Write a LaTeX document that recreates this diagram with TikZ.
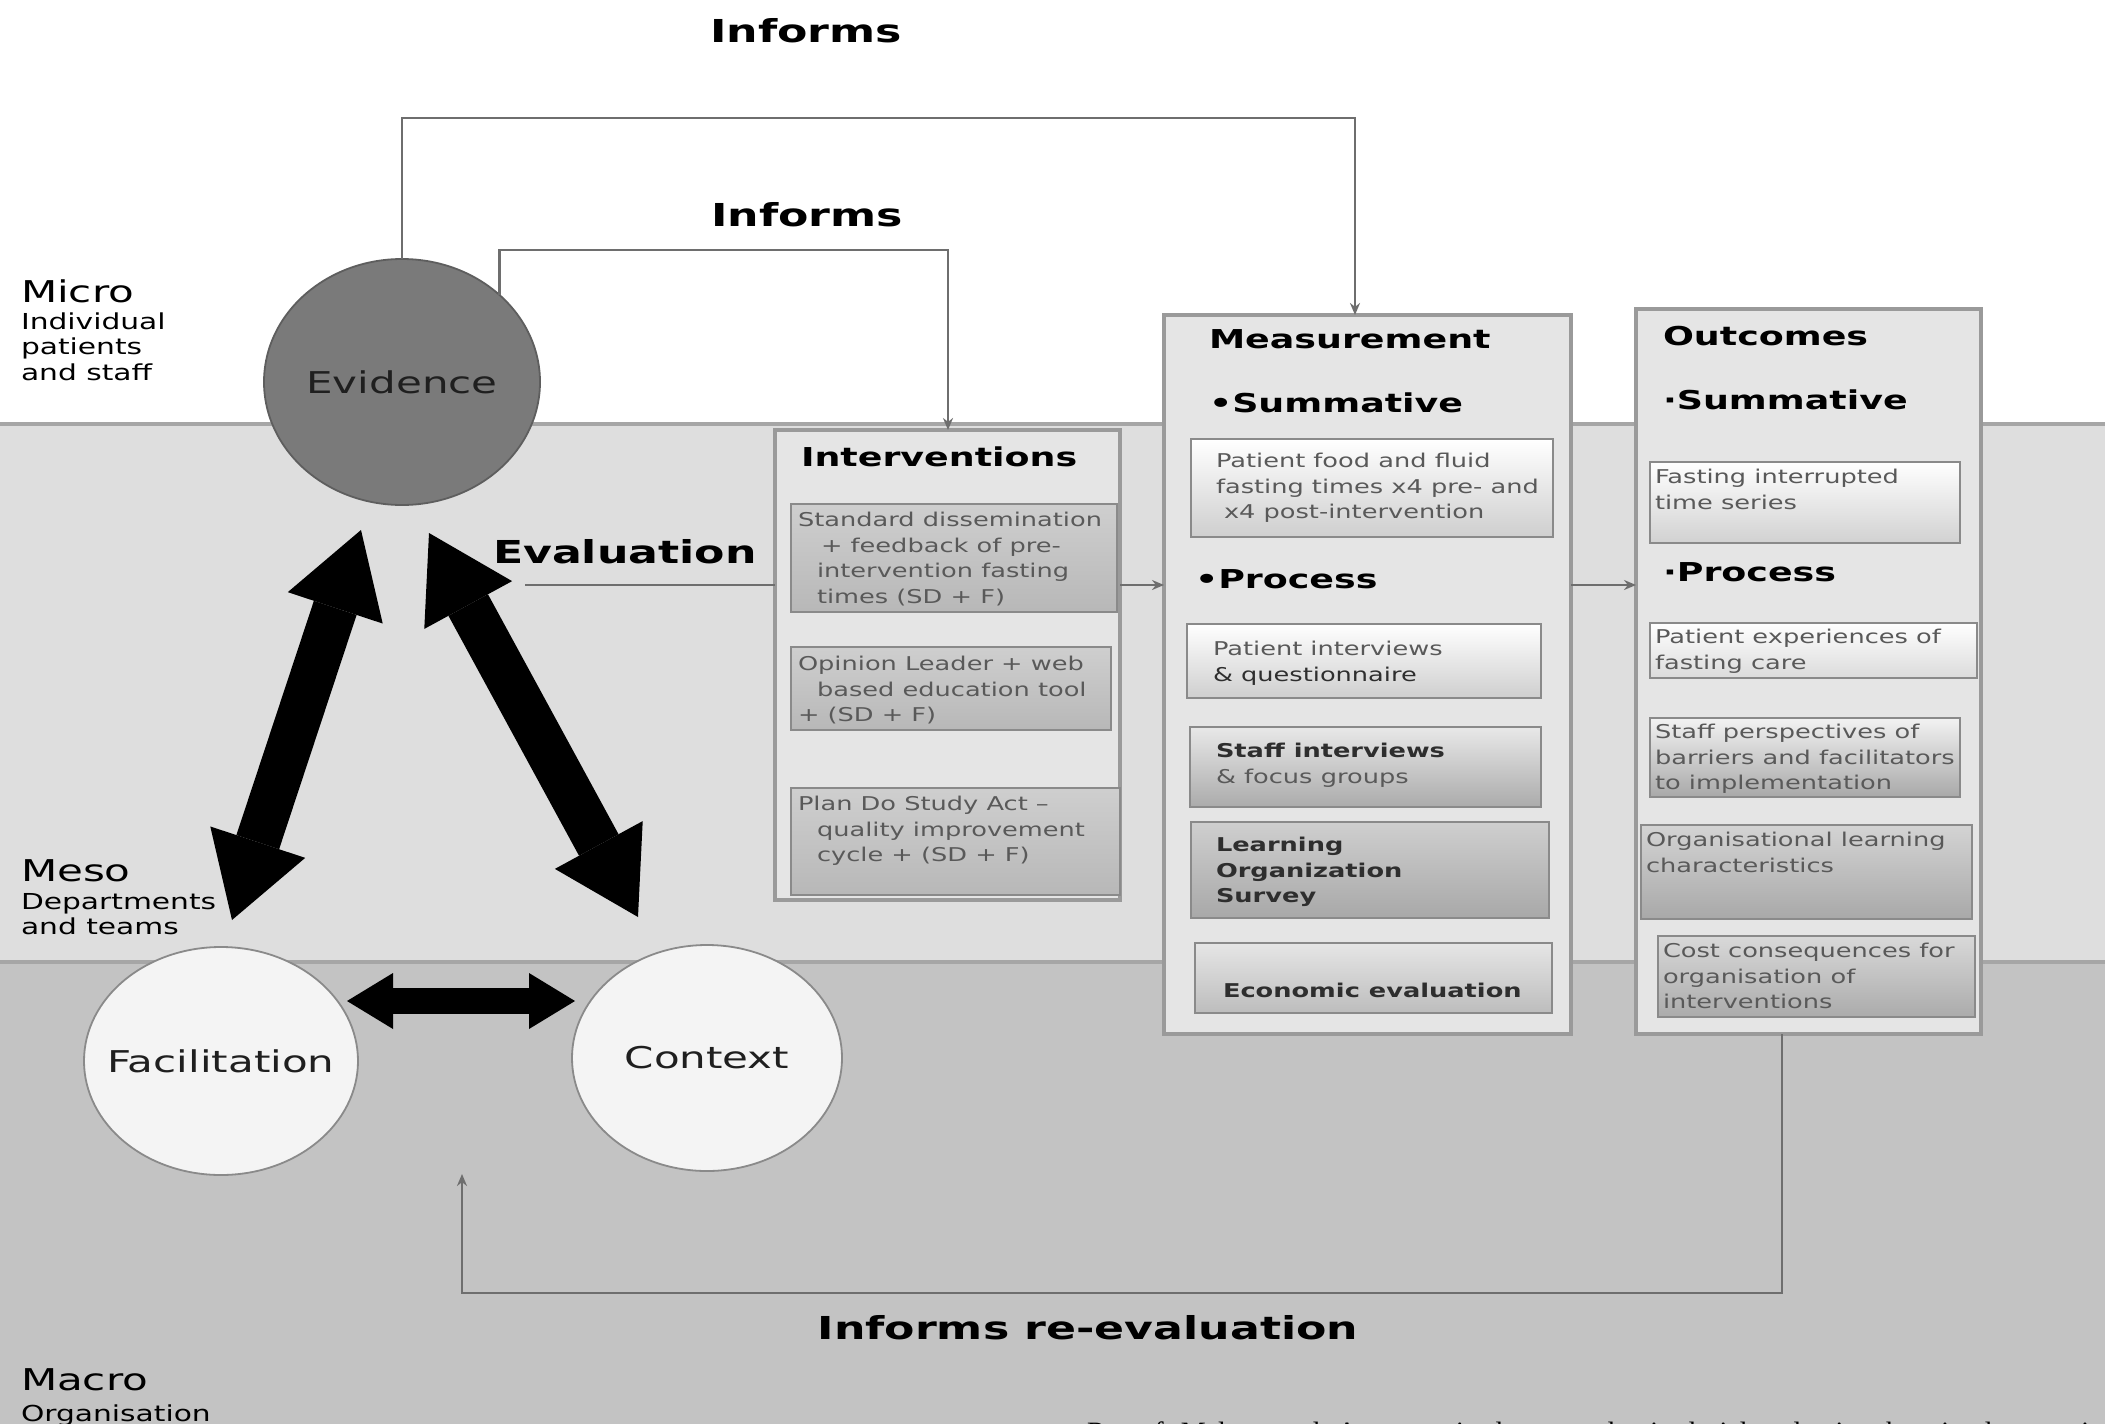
\documentclass[tikz,border=0pt]{standalone}
\usepackage{fontspec}
\setmainfont{DejaVu Sans}
\newfontfamily\widefont[FakeStretch=1.4]{DejaVu Sans}
\newfontfamily\smallfont[FakeStretch=1.35]{DejaVu Sans}
\newfontfamily\citefont{Liberation Serif}
\usetikzlibrary{arrows.meta,shapes.geometric,fit,calc}

\definecolor{bandmeso}{HTML}{DEDEDE}
\definecolor{bandmacro}{HTML}{C3C3C3}
\definecolor{bandrule}{HTML}{A6A6A6}
\definecolor{panelfill}{HTML}{E5E5E5}
\definecolor{paneledge}{HTML}{9A9A9A}
\definecolor{subedge}{HTML}{8A8A8A}
\definecolor{evfill}{HTML}{7A7A7A}
\definecolor{evedge}{HTML}{5E5E5E}
\definecolor{ovalfill}{HTML}{F4F4F4}
\definecolor{ovaledge}{HTML}{8A8A8A}
\definecolor{linkgray}{HTML}{6E6E6E}
\definecolor{boxtext}{HTML}{595959}
\definecolor{darktext}{HTML}{2E2E2E}

\tikzset{
  x=0.5pt, y=-0.5pt,
  every node/.style={inner sep=0pt, outer sep=0pt},
  bigtitle/.style={font=\widefont\bfseries\fontsize{15.8}{18}\selectfont, text=black},
  heading/.style={font=\widefont\bfseries\fontsize{13}{15}\selectfont, text=black, anchor=west},
  level/.style={font=\widefont\fontsize{15}{18}\selectfont, text=black, anchor=west},
  levelsub/.style={font=\smallfont\fontsize{11}{12.6}\selectfont, text=black, anchor=north west, align=left},
  oval/.style={ellipse, draw=ovaledge, fill=ovalfill, line width=0.9pt},
  ovaltext/.style={font=\widefont\fontsize{15}{18}\selectfont, text=black!88},
  panel/.style={rectangle, draw=paneledge, fill=panelfill, line width=1.6pt},
  subbox/.style={rectangle, draw=subedge, line width=1.2pt},
  boxtxt/.style={font=\smallfont\fontsize{9.5}{12.8}\selectfont, text=boxtext, anchor=north west, align=left},
  link/.style={draw=linkgray, line width=1.2pt},
  tip/.style={-{Stealth[length=6pt,width=5pt]}},
  fat/.style={draw=black, line width=22.5pt,
    {Triangle[width=50pt,length=41pt,line width=0pt]}-{Triangle[width=50pt,length=41pt,line width=0pt]}},
  hfat/.style={draw=black, line width=13pt,
    {Triangle[width=28pt,length=23pt,line width=0pt]}-{Triangle[width=28pt,length=23pt,line width=0pt]}},
}

\begin{document}
\begin{tikzpicture}
\useasboundingbox (0,0) rectangle (2105,1424);

% level bands
\fill[white] (0,0) rectangle (2105,424);
\fill[bandmeso] (0,424) rectangle (2105,962);
\fill[bandmacro] (0,962) rectangle (2105,1424);
\draw[bandrule, line width=2.2pt] (0,424) -- (2105,424);
\draw[bandrule, line width=2pt] (0,962) -- (2105,962);

% level labels
\node[level] (micro) at (21,291) {Micro};
\node[levelsub] (microsub) at (21,313) {Individual\\patients\\and staff};
\node[level] (meso) at (21,871) {Meso};
\node[levelsub] (mesosub) at (21,893) {Departments\\and teams};
\node[level] (macro) at (21,1380) {Macro};
\node[levelsub] (macrosub) at (21,1405) {Organisation};

% PARIHS elements
\node[oval, fill=evfill, draw=evedge, minimum width=138pt, minimum height=123pt] (ev) at (402,382) {};
\node[ovaltext] (evT) at (ev.center) {Evidence};
\node[oval, minimum width=137pt, minimum height=114pt] (fac) at (221,1061) {};
\node[ovaltext] (facT) at (fac.center) {Facilitation};
\node[oval, minimum width=135pt, minimum height=113pt] (ctx) at (707,1058) {};
\node[ovaltext] (ctxT) at (ctx.center) {Context};

% two-way relationships
\draw[fat] ([shift={(-41,25)}]ev.south) -- ([shift={(11,-27)}]fac.north);
\draw[fat] ([shift={(27,28)}]ev.south) -- ([shift={(-69,-28)}]ctx.north);
\draw[hfat] ([shift={(-11,-60)}]fac.east) -- ([shift={(3,-57)}]ctx.west);

% Interventions panel
\node[panel, fit={(775,430)(1120,900)}] (int) {};
\node[heading] (intT) at (801,457) {Interventions};
\node[subbox, top color=black!19, bottom color=black!28, fit={(791,504)(1117,612)}] (iv1) {};
\node[boxtxt] (iv1T) at ([shift={(7,8)}]iv1.north west)
  {Standard dissemination\\\hspace*{11.5pt}+ feedback of pre-\\\hspace*{9.5pt}intervention fasting\\\hspace*{9.5pt}times (SD + F)};
\node[subbox, top color=black!19, bottom color=black!28, fit={(791,647)(1111,730)}] (iv2) {};
\node[boxtxt] (iv2T) at ([shift={(7,9)}]iv2.north west)
  {Opinion Leader + web\\\hspace*{9.5pt}based education tool\\+ (SD + F)};
\node[subbox, top color=black!19, bottom color=black!28, fit={(791,788)(1120,895)}] (iv3) {};
\node[boxtxt] (iv3T) at ([shift={(7,8)}]iv3.north west)
  {Plan Do Study Act –\\\hspace*{9.5pt}quality improvement\\\hspace*{9.5pt}cycle + (SD + F)};

% Measurement panel
\node[panel, fit={(1164,315)(1571,1034)}] (meas) {};
\node[heading] (measT) at (1209,339) {Measurement};
\node[heading] (measS) at (1209,403) {•Summative};
\node[heading] (measP) at (1195,579) {•Process};
\node[subbox, top color=white, bottom color=black!19, fit={(1191,439)(1553,537)}] (m1) {};
\node[boxtxt] (m1T) at ([shift={(25,14)}]m1.north west)
  {Patient food and fluid\\fasting times x4 pre- and\\\hspace*{4pt}x4 post-intervention};
\node[subbox, top color=white, bottom color=black!19, fit={(1187,624)(1541,698)}] (m2) {};
\node[boxtxt] (m2T) at ([shift={(26,17)}]m2.north west)
  {Patient interviews\\\textcolor{darktext}{\& questionnaire}};
\node[subbox, top color=black!9, bottom color=black!33, fit={(1190,727)(1541,807)}] (m3) {};
\node[boxtxt] (m3T) at ([shift={(26,16)}]m3.north west)
  {\textcolor{darktext}{\bfseries Staff interviews}\\\& focus groups};
\node[subbox, top color=black!19, bottom color=black!34, fit={(1191,822)(1549,918)}] (m4) {};
\node[boxtxt, text=darktext, font=\smallfont\bfseries\fontsize{9.5}{12.8}\selectfont] (m4T) at ([shift={(25,15)}]m4.north west)
  {Learning\\Organization\\Survey};
\node[subbox, top color=black!10, bottom color=black!26, fit={(1195,943)(1552,1013)}] (m5) {};
\node[boxtxt, text=darktext, font=\smallfont\bfseries\fontsize{9.5}{12.8}\selectfont] (m5T) at ([shift={(28,40)}]m5.north west)
  {Economic evaluation};

% Outcomes panel
\node[panel, fit={(1636,309)(1981,1034)}] (out) {};
\node[heading] (outT) at (1663,336) {Outcomes};
\node[heading] (outS) at (1663,400) {·Summative};
\node[heading] (outP) at (1663,572) {·Process};
\node[subbox, top color=white, bottom color=black!18, fit={(1650,462)(1960,543)}] (o1) {};
\node[boxtxt] (o1T) at ([shift={(5,7)}]o1.north west)
  {Fasting interrupted\\time series};
\node[subbox, top color=white, bottom color=black!14, fit={(1650,623)(1977,678)}] (o2) {};
\node[boxtxt] (o2T) at ([shift={(5,6)}]o2.north west)
  {Patient experiences of\\fasting care};
\node[subbox, top color=black!5, bottom color=black!34, fit={(1650,718)(1960,797)}] (o3) {};
\node[boxtxt] (o3T) at ([shift={(5,6)}]o3.north west)
  {Staff perspectives of\\barriers and facilitators\\to implementation};
\node[subbox, top color=black!17, bottom color=black!34, fit={(1641,825)(1972,919)}] (o4) {};
\node[boxtxt] (o4T) at ([shift={(5,7)}]o4.north west)
  {Organisational learning\\characteristics};
\node[subbox, top color=black!15, bottom color=black!33, fit={(1658,936)(1975,1017)}] (o5) {};
\node[boxtxt] (o5T) at ([shift={(5,7)}]o5.north west)
  {Cost consequences for\\organisation of\\interventions};

% titles
\node[bigtitle] (inf1) at (806,31) {Informs};
\node[bigtitle] (inf2) at (807,215) {Informs};
\node[bigtitle, anchor=west] (evalT) at (493,552) {Evaluation};
\node[bigtitle] (reT) at (1088,1328) {Informs re-evaluation};

% feedback and flow connectors
\coordinate (inB) at (1355,118);
\draw[link, tip] (ev.north) |- (inB) -- (inB |- meas.north);
\coordinate (inC) at (948,250);
\draw[link, tip] (ev.north east) |- (inC) -- (inC |- int.north);
\coordinate (evl) at (525,585);
\draw[link] (evl) -- (evl -| int.west);
\draw[link, tip] (evl -| int.east) -- (evl -| meas.west);
\draw[link, tip] (evl -| meas.east) -- (evl -| out.west);
\coordinate (rv1) at (1782,1293);
\coordinate (rv2) at (462,1174);
\draw[link, tip] (rv1 |- out.south) -- (rv1) -| (rv2);

% running citation line at the foot
\begin{scope}
\clip (0,0) rectangle (2105,1424);
\node[font=\citefont\fontsize{14}{16}\selectfont, anchor=base west] (cite) at (1087,1441)
  {Rycroft-Malone et al. A pragmatic cluster randomised trial evaluating three implementation interventions};
\end{scope}
\end{tikzpicture}
\end{document}
